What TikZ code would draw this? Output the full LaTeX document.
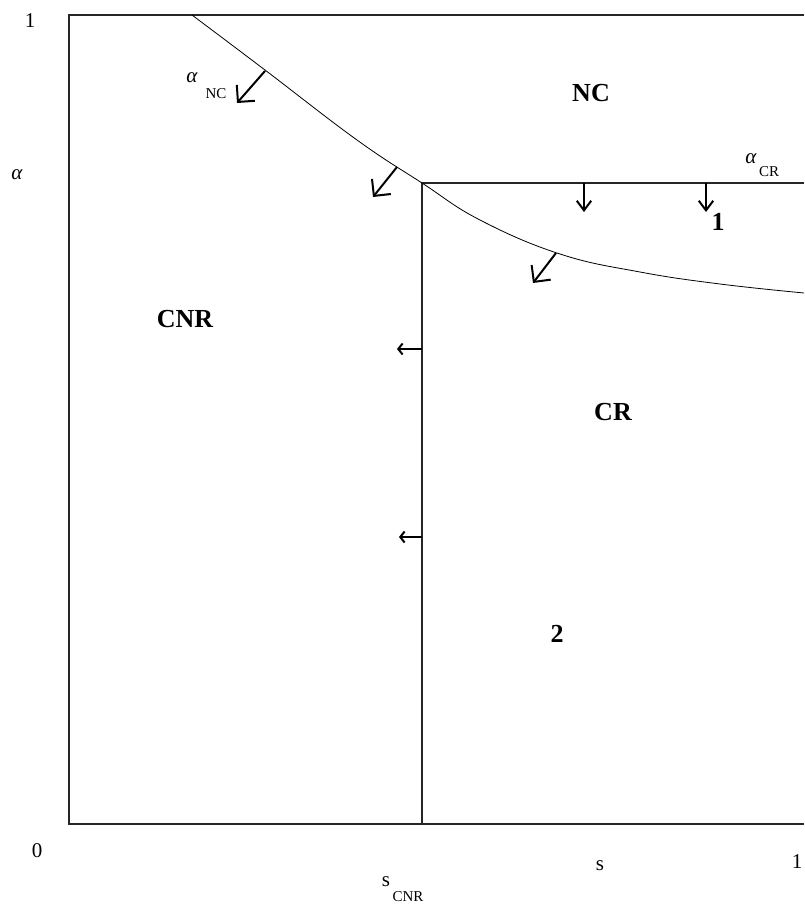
\documentclass[tikz,border=0pt]{standalone}
\usepackage{fontspec}
\setmainfont{Liberation Serif}
\usetikzlibrary{arrows.meta}
\tikzset{
  frame_line/.style={line width=1.3pt, black!85},
  region_line/.style={line width=1.2pt, black!85},
  curve_line/.style={line width=0.8pt},
  drift_diag/.style={line width=2pt, -{Straight Barb[angle=90:17pt]}},
  drift_down/.style={line width=2pt, -{Straight Barb[angle=74:12pt]}},
  drift_left/.style={line width=2pt, -{Straight Barb[angle=104:7pt]}},
  region_label/.style={font=\fontsize{26}{26}\selectfont\bfseries, inner sep=0pt},
  axis_label/.style={font=\fontsize{21}{21}\selectfont, inner sep=0pt},
  sub_label/.style={font=\fontsize{15}{15}\selectfont, inner sep=0pt}
}

\begin{document}
\begin{tikzpicture}[x=1pt, y=-1pt]
  \useasboundingbox (0,0) rectangle (804,908);

  % axes box
  \coordinate (top_right) at (804,15);
  \coordinate (top_left) at (69,15);
  \coordinate (bottom_left) at (69,824);
  \coordinate (bottom_right) at (804,824);
  \draw[frame_line] (top_right) -- (top_left) -- (bottom_left) -- (bottom_right);

  % region boundaries
  \coordinate (corner) at (422,183);
  \coordinate (cnr_foot) at (422,824);
  \coordinate (cr_end) at (804,183);
  \draw[region_line] (cnr_foot) -- (corner) -- (cr_end);
  \draw[curve_line] plot[smooth, tension=0.7] coordinates
    {(192,15) (265,70) (357,140) (422,183) (480,220) (560,254) (640,272) (720,284) (804,293)};

  % drift arrows
  \coordinate (nc_a) at (265,71);   \coordinate (nc_a_tip) at (237,103);
  \coordinate (nc_b) at (397,167);  \coordinate (nc_b_tip) at (373,197);
  \coordinate (nc_c) at (556,253);  \coordinate (nc_c_tip) at (533,283);
  \coordinate (cr_a) at (584,183);  \coordinate (cr_a_tip) at (584,212);
  \coordinate (cr_b) at (706,183);  \coordinate (cr_b_tip) at (706,212);
  \coordinate (cnr_a) at (422,349); \coordinate (cnr_a_tip) at (397,349);
  \coordinate (cnr_b) at (422,537); \coordinate (cnr_b_tip) at (399,537);
  \draw[drift_diag] (nc_a) -- (nc_a_tip);
  \draw[drift_diag] (nc_b) -- (nc_b_tip);
  \draw[drift_diag] (nc_c) -- (nc_c_tip);
  \draw[drift_down] (cr_a) -- (cr_a_tip);
  \draw[drift_down] (cr_b) -- (cr_b_tip);
  \draw[drift_left] (cnr_a) -- (cnr_a_tip);
  \draw[drift_left] (cnr_b) -- (cnr_b_tip);

  % region names
  \node[region_label] (nc) at (591,93) {NC};
  \node[region_label] (cnr) at (185,319) {CNR};
  \node[region_label] (cr) at (613,412) {CR};
  \node[region_label] (one) at (718,222) {1};
  \node[region_label] (two) at (557,634) {2};

  % curve labels
  \node[axis_label] (alpha_nc) at (192,78) {\textit{α}};
  \node[sub_label] (alpha_nc_sub) at (216,94) {NC};
  \node[axis_label] (alpha_cr) at (751,159) {\textit{α}};
  \node[sub_label] (alpha_cr_sub) at (769,172) {CR};

  % axis labels
  \node[axis_label] (y_one) at (30,21) {1};
  \node[axis_label] (origin) at (37,851) {0};
  \node[axis_label] (x_one) at (797,862) {1};
  \node[axis_label] (y_name) at (17,175) {\textit{α}};
  \node[axis_label] (x_name) at (600,866) {s};
  \node[axis_label] (s_cnr) at (386,882) {s};
  \node[sub_label] (s_cnr_sub) at (408,897) {CNR};
\end{tikzpicture}
\end{document}
